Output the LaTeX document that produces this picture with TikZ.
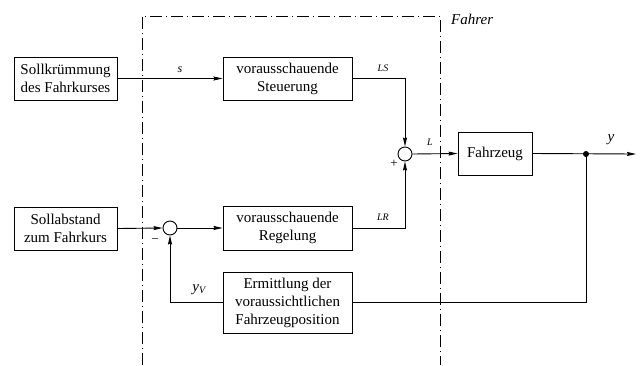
\documentclass[tikz,border=0pt]{standalone}
\usepackage{fontspec}
\setmainfont{Liberation Serif}
\usetikzlibrary{arrows.meta,calc}
\begin{document}
\begin{tikzpicture}[x=1pt,y=-1pt,
  box/.style={draw,line width=0.9pt,inner sep=0pt,align=center,font=\fontsize{15}{18}\selectfont},
  sumc/.style={draw,circle,line width=0.9pt,minimum size=14pt,inner sep=0pt},
  conn/.style={line width=0.9pt},
  arr/.style={conn,-{Stealth[length=9pt,width=4pt,inset=1pt]}},
  lbl/.style={font=\fontsize{15}{18}\selectfont\itshape,inner sep=0pt},
  slbl/.style={font=\fontsize{10}{12}\selectfont\itshape,inner sep=0pt},
  frame/.style={line width=0.9pt,dash pattern=on 12pt off 4pt on 1pt off 4pt}]
\useasboundingbox (0,0) rectangle (640,365);
% frame
\draw[frame] (142,365) -- (142,16) -- (440,16) -- (440,365);
\node[lbl,anchor=west] (fahrer) at (451,19) {Fahrer};
% boxes
\node[box,minimum width=103pt,minimum height=43pt] (soll1) at (65.5,78.5) {Sollkrümmung\\des Fahrkurses};
\node[box,minimum width=103pt,minimum height=43pt] (soll2) at (65.5,228.5) {Sollabstand\\zum Fahrkurs};
\node[box,minimum width=129pt,minimum height=43pt] (steu) at (287.5,78.5) {vorausschauende\\Steuerung};
\node[box,minimum width=129pt,minimum height=44pt] (reg) at (287.5,228) {vorausschauende\\Regelung};
\node[box,minimum width=129pt,minimum height=61pt] (erm) at (287.5,302.5) {Ermittlung der\\voraussichtlichen\\Fahrzeugposition};
\node[box,minimum width=74pt,minimum height=43pt] (fahr) at (495,153.5) {Fahrzeug};
\node[sumc] (sum1) at (405,154) {};
\node[sumc] (sum2) at (170,228) {};
\coordinate (dot) at (586,154);
\coordinate (out) at (636,154);
% connectors
\draw[arr] (soll1.east |- steu.west) -- (steu.west);
\draw[arr] (steu.east) -| (sum1.north);
\draw[arr] (reg.east) -| (sum1.south);
\draw[arr] (sum1.east) -- (fahr.west);
\draw[arr] (fahr.east) -- (out);
\fill (dot) circle (3pt);
\draw[conn] (dot) |- (erm.east);
\draw[arr] (soll2.east) -- (sum2.west);
\draw[arr] (sum2.east) -- (reg.west);
\draw[arr] (erm.west) -| (sum2.south);
% labels
\node[font=\fontsize{12}{14}\selectfont\itshape,inner sep=0pt] (ls) at (180,70) {s};
\node[slbl] (lsl) at (383,68) {LS};
\node[slbl] (lrl) at (383,217) {LR};
\node[slbl] (ll) at (430,142) {L};
\node[font=\fontsize{13}{14}\selectfont,inner sep=0pt] (plus) at (394,164) {+};
\node[font=\fontsize{13}{14}\selectfont,inner sep=0pt] (minus) at (155,241) {\textminus};
\node[lbl] (yl) at (611,140) {y};
\node[lbl] (yvl) at (199,290) {y\textsubscript{\fontsize{10}{12}\selectfont V}};
\end{tikzpicture}
\end{document}
